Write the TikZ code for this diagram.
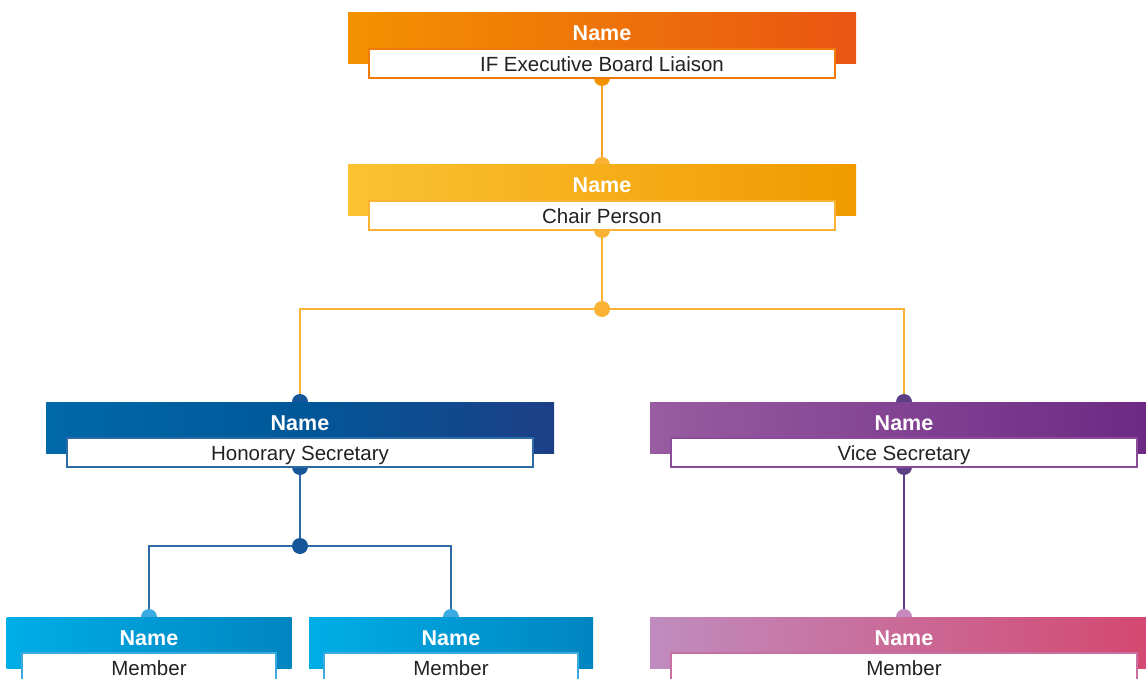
\documentclass[tikz,border=0pt]{standalone}
\usepackage{fontspec}
\setmainfont{Liberation Sans}
\definecolor{oA}{HTML}{F39200}
\definecolor{oB}{HTML}{E95513}
\definecolor{oLine}{HTML}{F5A12A}
\definecolor{yA}{HTML}{FBC232}
\definecolor{yB}{HTML}{F09A00}
\definecolor{yLine}{HTML}{F9B233}
\definecolor{bA}{HTML}{0069A8}
\definecolor{bM}{HTML}{004C8F}
\definecolor{bB}{HTML}{1D3F86}
\definecolor{bDot}{HTML}{17559B}
\definecolor{bLine}{HTML}{2D6AA8}
\definecolor{pA}{HTML}{985CA1}
\definecolor{pB}{HTML}{6C2883}
\definecolor{pDot}{HTML}{5C3F85}
\definecolor{pBorder}{HTML}{8A4B98}
\definecolor{cA}{HTML}{00AEE7}
\definecolor{cB}{HTML}{0085C0}
\definecolor{cDot}{HTML}{3AAAE0}
\definecolor{rA}{HTML}{C08CBF}
\definecolor{rB}{HTML}{D4476F}
\definecolor{rDot}{HTML}{C58ABF}
\definecolor{txt}{HTML}{222222}
\begin{document}
\begin{tikzpicture}[x=1pt,y=-1pt,
  band/.style={inner sep=0pt, outer sep=0pt, minimum height=51pt},
  labelbox/.style={fill=white, line width=1.5pt, inner sep=0pt, outer sep=0pt, minimum height=29pt},
  nametext/.style={text=white, font=\fontsize{21.5}{24}\selectfont\bfseries, anchor=base, inner sep=0pt},
  roletext/.style={text=txt, font=\fontsize{20.5}{24}\selectfont, anchor=base, inner sep=0pt},
  dot/.style={circle, inner sep=0pt, minimum size=16pt},
  conn/.style={line width=1.5pt}
]
\useasboundingbox (0,0) rectangle (1146,679);
\clip (0,0) rectangle (1146,679);

% dot positions
\coordinate (tb) at (602,78);
\coordinate (ct) at (602,165);
\coordinate (cb) at (602,230);
\coordinate (j1) at (602,309);
\coordinate (ht) at (300,402);
\coordinate (vt) at (904,402);
\coordinate (hb) at (300,467);
\coordinate (vb) at (904,467);
\coordinate (j2) at (300,546);
\coordinate (m1t) at (149,617);
\coordinate (m2t) at (451,617);
\coordinate (m3t) at (904,617);

% connectors
\draw[conn, oLine] (tb) -- (ct);
\draw[conn, yLine] (cb) -- (j1);
\draw[conn, yLine] (j1) -| (ht);
\draw[conn, yLine] (j1) -| (vt);
\draw[conn, bLine] (hb) -- (j2);
\draw[conn, bLine] (j2) -| (m1t);
\draw[conn, bLine] (j2) -| (m2t);
\draw[conn, pDot] (vb) -- (m3t);

% dots
\node[dot, fill=oA] (tbd) at (tb) {};
\node[dot, fill=yLine] (ctd) at (ct) {};
\node[dot, fill=yLine] (cbd) at (cb) {};
\node[dot, fill=yLine] (j1d) at (j1) {};
\node[dot, fill=bDot] (htd) at (ht) {};
\node[dot, fill=pDot] (vtd) at (vt) {};
\node[dot, fill=bDot] (hbd) at (hb) {};
\node[dot, fill=pDot] (vbd) at (vb) {};
\node[dot, fill=bDot] (j2d) at (j2) {};
\node[dot, fill=cDot] (m1td) at (m1t) {};
\node[dot, fill=cDot] (m2td) at (m2t) {};
\node[dot, fill=rDot] (m3td) at (m3t) {};

% Top: IF Executive Board Liaison
\node[band, minimum width=508pt, left color=oA, right color=oB] (topband) at (602,38.5) {};
\node[labelbox, minimum width=466pt, draw=oA!60!oB] (topbox) at (602,63.5) {};
\node[nametext] (topname) at (602,41) {Name};
\node[roletext] (toprole) at (602,71.7) {IF Executive Board Liaison};

% Chair
\node[band, minimum width=508pt, left color=yA, right color=yB] (chairband) at (602,190.5) {};
\node[labelbox, minimum width=466pt, draw=yLine] (chairbox) at (602,215.5) {};
\node[nametext] (chairname) at (602,193) {Name};
\node[roletext] (chairrole) at (602,223.7) {Chair Person};

% Honorary Secretary
\node[band, minimum width=508pt, left color=bA, right color=bB, middle color=bM!60!bA] (honband) at (300,427.5) {};
\node[labelbox, minimum width=466pt, draw=bLine] (honbox) at (300,452.5) {};
\node[nametext] (honname) at (300,430) {Name};
\node[roletext] (honrole) at (300,460.7) {Honorary Secretary};

% Vice Secretary
\node[band, minimum width=508pt, left color=pA, right color=pB] (viceband) at (904,427.5) {};
\node[labelbox, minimum width=466pt, draw=pBorder] (vicebox) at (904,452.5) {};
\node[nametext] (vicename) at (904,430) {Name};
\node[roletext] (vicerole) at (904,460.7) {Vice Secretary};

% Member 1
\node[band, minimum width=285pt, left color=cA, right color=cB] (m1band) at (149,642.5) {};
\node[labelbox, minimum width=254pt, draw=cDot] (m1box) at (149,667.5) {};
\node[nametext] (m1name) at (149,645) {Name};
\node[roletext] (m1role) at (149,675.7) {Member};

% Member 2
\node[band, minimum width=284pt, left color=cA, right color=cB] (m2band) at (451,642.5) {};
\node[labelbox, minimum width=254pt, draw=cDot] (m2box) at (451,667.5) {};
\node[nametext] (m2name) at (451,645) {Name};
\node[roletext] (m2role) at (451,675.7) {Member};

% Member 3
\node[band, minimum width=508pt, left color=rA, right color=rB] (m3band) at (904,642.5) {};
\node[labelbox, minimum width=466pt, draw=rA!60!rB] (m3box) at (904,667.5) {};
\node[nametext] (m3name) at (904,645) {Name};
\node[roletext] (m3role) at (904,675.7) {Member};
\end{tikzpicture}
\end{document}
